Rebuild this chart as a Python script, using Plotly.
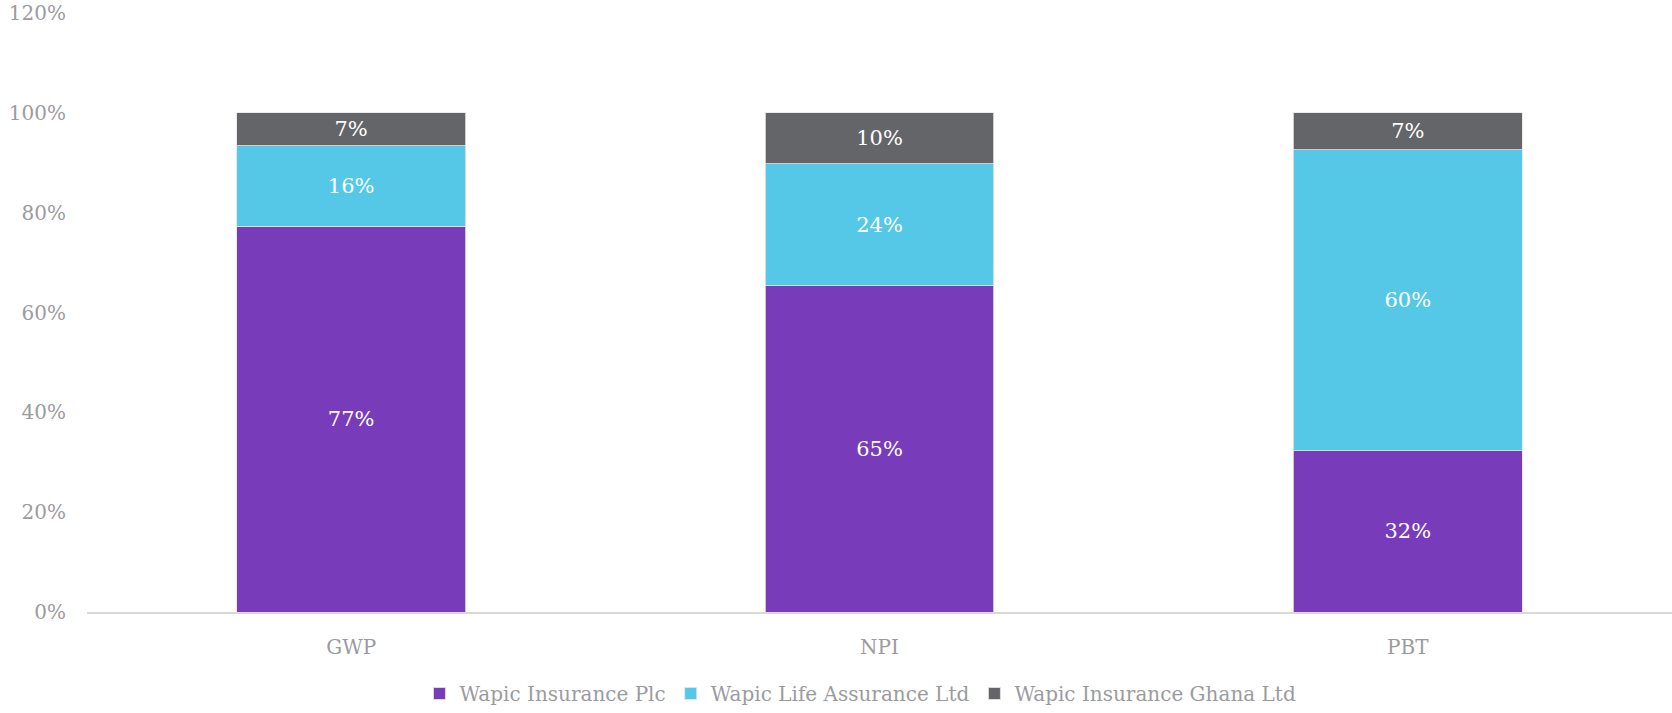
import plotly.graph_objects as go

# Share of group totals by subsidiary (%)
categories = ["GWP", "NPI", "PBT"]
insurance_plc = [77.3, 65.4, 32.3]
life_assurance = [16.1, 24.4, 60.3]
insurance_ghana = [6.6, 10.2, 7.4]

series = [
    ("Wapic Insurance Plc", insurance_plc, "#783CBA"),
    ("Wapic Life Assurance Ltd", life_assurance, "#55C8E8"),
    ("Wapic Insurance Ghana Ltd", insurance_ghana, "#646569"),
]

FONT = "DejaVu Serif"
GREY = "#9B9B9E"

fig = go.Figure()
for name, vals, color in series:
    fig.add_trace(go.Bar(
        name=name,
        x=categories,
        y=vals,
        marker=dict(color=color, line=dict(color="#E6E6E6", width=0.8)),
        texttemplate="%{y:.0f}%",
        textposition="inside",
        insidetextanchor="middle",
        textfont=dict(family=FONT, size=21, color="white"),
        constraintext="none",
    ))

fig.update_layout(
    barmode="stack",
    bargap=0.567,
    width=1672,
    height=713,
    margin=dict(l=87, r=0, t=13, b=100),
    plot_bgcolor="white",
    paper_bgcolor="white",
    font=dict(family=FONT, size=20, color=GREY),
    showlegend=True,
    legend=dict(
        orientation="h",
        x=0.488,
        xanchor="center",
        y=-0.137,
        yanchor="middle",
        font=dict(family=FONT, size=20, color=GREY),
        itemwidth=30,
        traceorder="normal",
    ),
    uniformtext=dict(minsize=10, mode="show"),
)

fig.update_yaxes(
    range=[0, 120],
    dtick=20,
    ticksuffix="%",
    showgrid=False,
    zeroline=False,
    showline=False,
    ticklabelstandoff=20,
    tickfont=dict(family=FONT, size=20, color=GREY),
)
fig.update_xaxes(
    showgrid=False,
    showline=True,
    linecolor="#D9D9D9",
    linewidth=1.5,
    ticks="",
    ticklabelstandoff=16,
    tickfont=dict(family=FONT, size=20, color=GREY),
)

fig.write_html("out.html")
